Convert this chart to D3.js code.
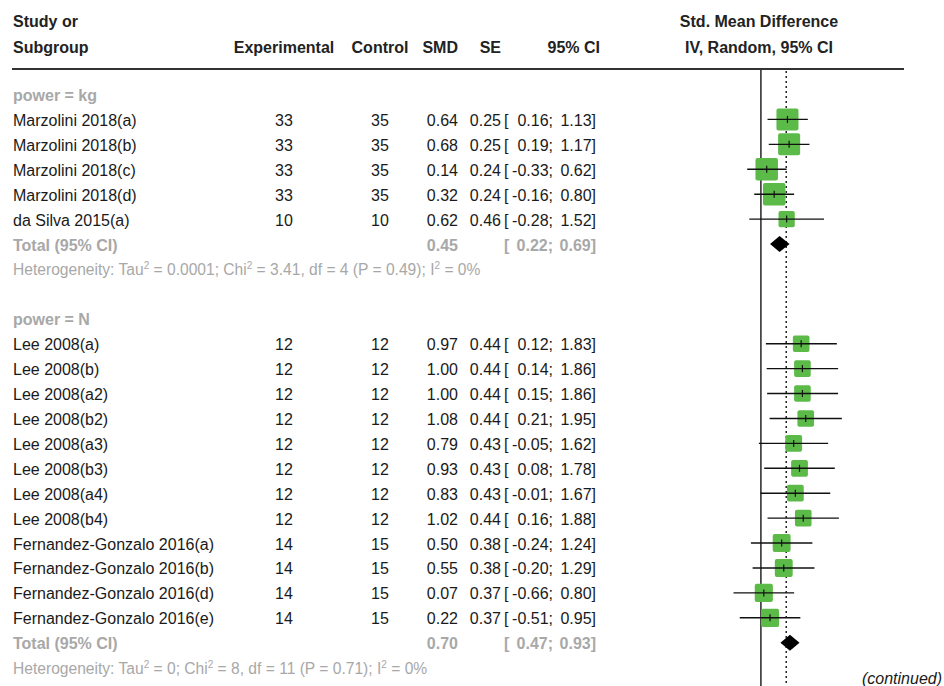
<!DOCTYPE html>
<html>
<head>
<meta charset="utf-8">
<script src="https://cdn.jsdelivr.net/npm/d3@7/dist/d3.min.js"></script>
<style>
  html, body { margin: 0; padding: 0; background: #fff; }
  svg { display: block; font-family: "Liberation Sans", Arial, sans-serif; }
</style>
</head>
<body>
<svg id="chart" width="944" height="686"></svg>
<script>
// ---- data ----
const groupLabels = ["power = kg", "power = N"];

const studiesKg = ["Marzolini 2018(a)", "Marzolini 2018(b)", "Marzolini 2018(c)", "Marzolini 2018(d)", "da Silva 2015(a)"];
const expKg  = [33, 33, 33, 33, 10];
const ctrlKg = [35, 35, 35, 35, 10];
const smdKg  = [0.64, 0.68, 0.14, 0.32, 0.62];
const seKg   = [0.25, 0.25, 0.24, 0.24, 0.46];
const loKg   = [0.16, 0.19, -0.33, -0.16, -0.28];
const hiKg   = [1.13, 1.17, 0.62, 0.80, 1.52];

const studiesN = ["Lee 2008(a)", "Lee 2008(b)", "Lee 2008(a2)", "Lee 2008(b2)", "Lee 2008(a3)", "Lee 2008(b3)",
                  "Lee 2008(a4)", "Lee 2008(b4)", "Fernandez-Gonzalo 2016(a)", "Fernandez-Gonzalo 2016(b)",
                  "Fernandez-Gonzalo 2016(d)", "Fernandez-Gonzalo 2016(e)"];
const expN  = [12, 12, 12, 12, 12, 12, 12, 12, 14, 14, 14, 14];
const ctrlN = [12, 12, 12, 12, 12, 12, 12, 12, 15, 15, 15, 15];
const smdN  = [0.97, 1.00, 1.00, 1.08, 0.79, 0.93, 0.83, 1.02, 0.50, 0.55, 0.07, 0.22];
const seN   = [0.44, 0.44, 0.44, 0.44, 0.43, 0.43, 0.43, 0.44, 0.38, 0.38, 0.37, 0.37];
const loN   = [0.12, 0.14, 0.15, 0.21, -0.05, 0.08, -0.01, 0.16, -0.24, -0.20, -0.66, -0.51];
const hiN   = [1.83, 1.86, 1.86, 1.95, 1.62, 1.78, 1.67, 1.88, 1.24, 1.29, 0.80, 0.95];

const totalSmd = [0.45, 0.70];
const totalLo  = [0.22, 0.47];
const totalHi  = [0.69, 0.93];

// heterogeneity: [tau2, chi2, df, p, i2]
const hetKg = ["0.0001", "3.41", "4", "0.49", "0%"];
const hetN  = ["0", "8", "11", "0.71", "0%"];

const overallSmd = 0.61;   // pooled estimate (dotted reference line)

// ---- layout ----
const svg = d3.select("#chart");
const W = 944, H = 686;
const ink = "#1a1a1a", grey = "#a8a8a8", green = "#5cba48";

const x = d3.scaleLinear().domain([-3.5, 3.5]).range([615.6, 906.2]);
const rowY = d3.scaleLinear().domain([0, 1]).range([94.5, 94.5 + 24.92]);
const boxSize = d3.scaleSqrt().domain([0, 1 / 0.24]).range([0, 22.5]);

// column anchors: CI is laid out as "[" | lower; | upper]
const col = { study: 13, exp: 284, ctrl: 380, smd: 458, se: 501, ciOpen: 504, ciLo: 553, ciHi: 596, ciHead: 600 };
const fmt = v => v.toFixed(2);

const defs = svg.append("defs");
defs.append("filter").attr("id", "soft").attr("x", "-20%").attr("y", "-20%").attr("width", "140%").attr("height", "140%")
  .append("feGaussianBlur").attr("stdDeviation", 0.7);

// ---- header ----
const hdr = svg.append("g").attr("font-weight", "bold").attr("font-size", 16).attr("fill", "#222");
hdr.append("text").attr("x", col.study).attr("y", 27).text("Study or");
hdr.append("text").attr("x", col.study).attr("y", 53).text("Subgroup");
hdr.append("text").attr("x", col.exp).attr("y", 53).attr("text-anchor", "middle").text("Experimental");
hdr.append("text").attr("x", col.ctrl).attr("y", 53).attr("text-anchor", "middle").text("Control");
hdr.append("text").attr("x", col.smd).attr("y", 53).attr("text-anchor", "end").text("SMD");
hdr.append("text").attr("x", col.se).attr("y", 53).attr("text-anchor", "end").text("SE");
hdr.append("text").attr("x", col.ciHead).attr("y", 53).attr("text-anchor", "end").text("95% CI");
hdr.append("text").attr("x", 759).attr("y", 27).attr("text-anchor", "middle").text("Std. Mean Difference");
hdr.append("text").attr("x", 759).attr("y", 53).attr("text-anchor", "middle").text("IV, Random, 95% CI");

svg.append("line").attr("x1", 12).attr("x2", 904).attr("y1", 69).attr("y2", 69)
  .attr("stroke", "#333").attr("stroke-width", 2);

// ---- reference lines ----
svg.append("line").attr("x1", x(0)).attr("x2", x(0)).attr("y1", 69).attr("y2", H)
  .attr("stroke", "#333").attr("stroke-width", 1.6);
svg.append("line").attr("x1", x(overallSmd)).attr("x2", x(overallSmd)).attr("y1", 71).attr("y2", H)
  .attr("stroke", "#222").attr("stroke-width", 1.5).attr("stroke-dasharray", "2,3");

// ---- rows ----
function ciLabel(sel, y, lo, hi) {
  sel.append("text").attr("x", col.ciOpen).attr("y", y).text("[");
  sel.append("text").attr("x", col.ciLo).attr("y", y).attr("text-anchor", "end").text(fmt(lo) + ";");
  sel.append("text").attr("x", col.ciHi).attr("y", y).attr("text-anchor", "end").text(fmt(hi) + "]");
}

function drawGroup(gi, startRow, names, ex, ct, smd, se, lo, hi, het) {
  const g = svg.append("g");
  const base = r => rowY(r) + 6.5;

  g.append("text").attr("x", col.study).attr("y", base(startRow))
    .attr("font-size", 16).attr("font-weight", "bold").attr("fill", grey).text(groupLabels[gi]);

  const rows = names.map((n, i) => ({ name: n, e: ex[i], c: ct[i], smd: smd[i], se: se[i], lo: lo[i], hi: hi[i], r: startRow + 1 + i }));

  const txt = g.append("g").attr("font-size", 16).attr("fill", ink);
  rows.forEach(d => {
    const y = base(d.r);
    txt.append("text").attr("x", col.study).attr("y", y).text(d.name);
    txt.append("text").attr("x", col.exp).attr("y", y).attr("text-anchor", "middle").text(d.e);
    txt.append("text").attr("x", col.ctrl).attr("y", y).attr("text-anchor", "middle").text(d.c);
    txt.append("text").attr("x", col.smd).attr("y", y).attr("text-anchor", "end").text(fmt(d.smd));
    txt.append("text").attr("x", col.se).attr("y", y).attr("text-anchor", "end").text(fmt(d.se));
    ciLabel(txt, y, d.lo, d.hi);
  });

  // squares sized by precision
  g.append("g").attr("filter", "url(#soft)").selectAll("rect").data(rows).join("rect")
    .attr("x", d => x(d.smd) - boxSize(1 / d.se) / 2)
    .attr("y", d => rowY(d.r) - boxSize(1 / d.se) / 2)
    .attr("width", d => boxSize(1 / d.se))
    .attr("height", d => boxSize(1 / d.se))
    .attr("rx", 2)
    .attr("fill", green);

  // confidence intervals
  g.append("g").selectAll("line").data(rows).join("line")
    .attr("x1", d => x(d.lo)).attr("x2", d => x(d.hi))
    .attr("y1", d => rowY(d.r)).attr("y2", d => rowY(d.r))
    .attr("stroke", "#111").attr("stroke-width", 1.4);

  // point estimate tick
  g.append("g").selectAll("line").data(rows).join("line")
    .attr("x1", d => x(d.smd)).attr("x2", d => x(d.smd))
    .attr("y1", d => rowY(d.r) - 3.5).attr("y2", d => rowY(d.r) + 3.5)
    .attr("stroke", "#111").attr("stroke-width", 1.2);

  // subgroup total
  const tr = startRow + 1 + names.length;
  const ty = rowY(tr);
  const tot = g.append("g").attr("font-size", 16).attr("font-weight", "bold").attr("fill", grey);
  tot.append("text").attr("x", col.study).attr("y", base(tr)).text("Total (95% CI)");
  tot.append("text").attr("x", col.smd).attr("y", base(tr)).attr("text-anchor", "end").text(fmt(totalSmd[gi]));
  ciLabel(tot, base(tr), totalLo[gi], totalHi[gi]);

  const dh = 8;
  g.append("path")
    .attr("d", d3.line()([[x(totalLo[gi]), ty], [x(totalSmd[gi]), ty - dh], [x(totalHi[gi]), ty], [x(totalSmd[gi]), ty + dh]]) + "Z")
    .attr("fill", "#000");

  // heterogeneity line
  const ht = g.append("text").attr("x", col.study).attr("y", base(tr + 1)).attr("font-size", 15.6).attr("fill", grey);
  const sup = s => ht.append("tspan").attr("dy", -6).attr("font-size", 10).text(s);
  const norm = s => ht.append("tspan").attr("dy", 6).text(s);
  ht.append("tspan").text("Heterogeneity: Tau");
  sup("2"); norm(" = " + het[0] + "; Chi");
  sup("2"); norm(" = " + het[1] + ", df = " + het[2] + " (P = " + het[3] + "); I");
  sup("2"); norm(" = " + het[4]);
}

drawGroup(0, 0, studiesKg, expKg, ctrlKg, smdKg, seKg, loKg, hiKg, hetKg);
drawGroup(1, 9, studiesN, expN, ctrlN, smdN, seN, loN, hiN, hetN);

svg.append("text").attr("x", 942).attr("y", 684).attr("text-anchor", "end").attr("font-size", 16).attr("font-style", "italic")
  .attr("fill", ink).text("(continued)");
</script>
</body>
</html>
